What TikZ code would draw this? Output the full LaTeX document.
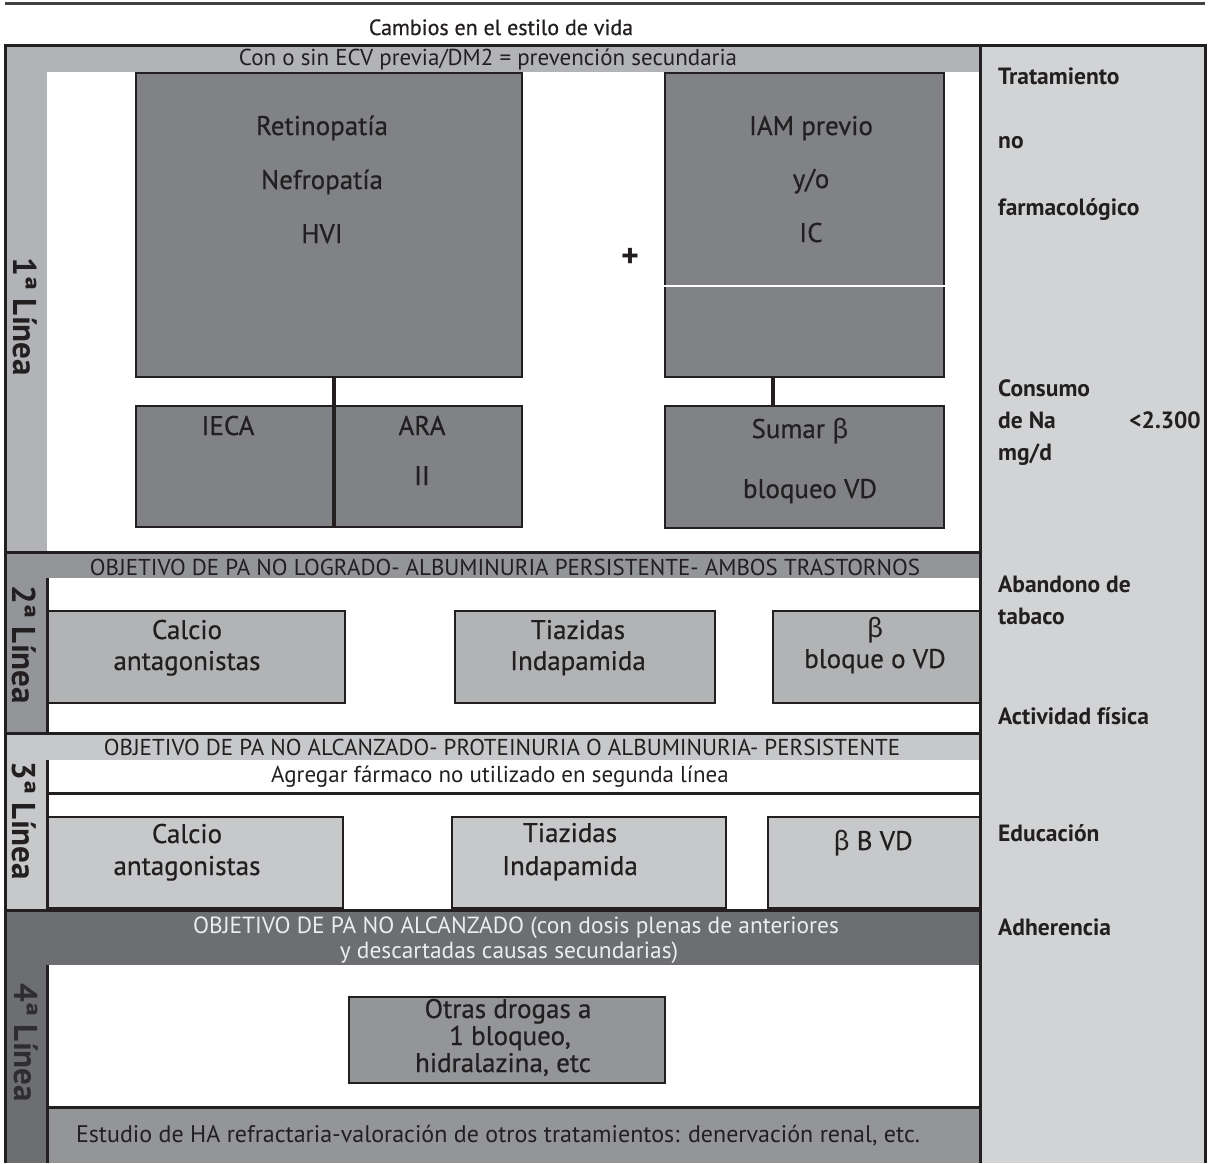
\documentclass[tikz,border=0pt]{standalone}
\usepackage{fontspec}
\setmainfont{PT Sans}
\newfontfamily\grk{Fira Sans}
\newfontfamily\medfont{PT Sans}[FakeBold=0.6]
\definecolor{ink}{HTML}{231F20}
\definecolor{darkink}{HTML}{2E2D2F}
\definecolor{bandA}{HTML}{B2B3B6}
\definecolor{boxA}{HTML}{808285}
\definecolor{sidecol}{HTML}{D1D3D4}
\definecolor{bandB}{HTML}{939598}
\definecolor{boxB}{HTML}{B2B3B5}
\definecolor{bandC}{HTML}{C7C8CA}
\definecolor{bandD}{HTML}{6D6E71}
\definecolor{boxD}{HTML}{939598}
\definecolor{lighttxt}{HTML}{ECEDEE}
\newcommand{\mainsz}{\medfont\fontsize{27}{30}\selectfont}
\newcommand{\bandsz}{\fontsize{23}{26}\selectfont}
\newcommand{\widesz}{\fontsize{23.4}{27}\selectfont}
\newcommand{\titlesz}{\medfont\fontsize{22}{25}\selectfont}
\newcommand{\sidesz}{\fontsize{23.5}{26}\selectfont\bfseries}
\newcommand{\lblsz}{\fontsize{33}{36}\selectfont\bfseries}
\newcommand{\bet}{{\grk β}}
\begin{document}
\begin{tikzpicture}[x=1pt,y=-1pt,
  txt/.style={inner sep=0pt, text=ink, font=\mainsz, anchor=base},
  bandtxt/.style={inner sep=0pt, text=ink, font=\bandsz, anchor=base},
  sidetxt/.style={inner sep=0pt, text=ink, font=\sidesz, anchor=base west},
  linelbl/.style={inner sep=0pt, text=ink, font=\lblsz, rotate=-90},
  rule/.style={draw=ink, line width=3pt},
  boxone/.style={draw=ink, line width=2.5pt, fill=boxA, inner sep=0pt},
  boxtwo/.style={draw=ink, line width=2.5pt, fill=boxB, inner sep=0pt},
  boxthree/.style={draw=ink, line width=2.5pt, fill=bandC, inner sep=0pt},
  boxfour/.style={draw=ink, line width=2.5pt, fill=boxD, inner sep=0pt},
  conn/.style={draw=ink, line width=3.5pt}
]
\useasboundingbox (0,0) rectangle (1208,1163);
\fill[white] (0,0) rectangle (1208,1163);

% top rule and title
\draw[draw=ink!85, line width=3pt] (5,3) -- (1205,3);
\node[txt, font=\titlesz] (title) at (501,35) {Cambios en el estilo de vida};

% backgrounds
\fill[sidecol] (980,45) rectangle (1205,1163);
\fill[bandA] (5,45) rectangle (980,552);
\fill[white] (47,72) rectangle (980,552);
\fill[bandB] (5,552) rectangle (980,733);
\fill[white] (47,578) rectangle (980,733);
\fill[bandC] (5,733) rectangle (980,910);
\fill[white] (47,760) rectangle (980,910);
\fill[bandD] (5,910) rectangle (980,1163);
\fill[white] (47,965) rectangle (980,1163);
\fill[boxD] (47,1107) rectangle (980,1163);

% frame lines
\draw[rule] (5,1163) -- (5,45) -- (1205,45) -- (1205,1163);
\draw[rule] (980,45) -- (980,1163);
\draw[rule] (5,552) -- (980,552);
\draw[rule] (5,733) -- (980,733);
\draw[rule] (5,910) -- (980,910);
\draw[rule] (47,578) -- (47,733);
\draw[rule] (47,760) -- (47,910);
\draw[rule] (47,793) -- (980,793);
\draw[rule] (47,965) -- (47,1163);
\draw[rule] (47,1107) -- (980,1107);

% section labels
\node[linelbl] (l1) at (25,317) {1ª Línea};
\node[linelbl] (l2) at (24,645) {2ª Línea};
\node[linelbl] (l3) at (24,821) {3ª Línea};
\node[linelbl, text=darkink] (l4) at (26,1043) {4ª Línea};

% section 1
\node[bandtxt] (b1) at (488,65) {Con o sin ECV previa/DM2 = prevención secundaria};
\node[boxone, minimum width=386pt, minimum height=304pt] (ret) at (329,225) {};
\node[boxone, minimum width=279pt, minimum height=304pt] (iam) at (804.5,225) {};
\draw[white, line width=2pt] (iam.west |- 0,286) -- (iam.east |- 0,286);
\node[boxone, minimum width=199pt, minimum height=121pt] (ieca) at (235.5,466.5) {};
\node[boxone, minimum width=187pt, minimum height=121pt] (ara) at (428.5,466.5) {};
\node[boxone, minimum width=279pt, minimum height=122pt] (sumar) at (804.5,467) {};
\coordinate (cx) at (773,0);
\draw[conn] (ret.south -| ara.west) -- (ara.south west);
\draw[conn] (iam.south -| cx) -- (sumar.north -| cx);

\node[txt] (r1) at (322,135) {Retinopatía};
\node[txt] (r2) at (322,189) {Nefropatía};
\node[txt] (r3) at (322,243) {HVI};
\node[txt] (i1) at (811,135) {IAM previo};
\node[txt] (i2) at (811,188) {y/o};
\node[txt] (i3) at (811,242) {IC};
\node[txt, font=\fontsize{34}{36}\selectfont\bfseries, anchor=center] (plus) at (630,258) {+};
\node[txt] (e1) at (228,435) {IECA};
\node[txt] (a1) at (422,435) {ARA};
\node[txt] (a2) at (422,485) {II};
\node[txt] (s1) at (800,438) {Sumar \bet};
\node[txt] (s2) at (810,498) {bloqueo VD};

% section 2
\node[bandtxt] (b2) at (505,575) {OBJETIVO DE PA NO LOGRADO- ALBUMINURIA PERSISTENTE- AMBOS TRASTORNOS};
\node[boxtwo, minimum width=297pt, minimum height=92pt] (ca2) at (196.5,657) {};
\node[boxtwo, minimum width=260pt, minimum height=92pt] (ti2) at (585,657) {};
\node[boxtwo, minimum width=207pt, minimum height=92pt] (be2) at (876.5,657) {};
\node[txt] (ca2a) at (187,639) {Calcio};
\node[txt] (ca2b) at (187,670) {antagonistas};
\node[txt] (ti2a) at (578,639) {Tiazidas};
\node[txt] (ti2b) at (578,670) {Indapamida};
\node[txt] (be2a) at (875,637) {\bet};
\node[txt] (be2b) at (875,668) {bloque o VD};

% section 3
\node[bandtxt] (b3) at (502,755) {OBJETIVO DE PA NO ALCANZADO- PROTEINURIA O ALBUMINURIA- PERSISTENTE};
\node[bandtxt] (ag) at (500,782) {Agregar fármaco no utilizado en segunda línea};
\node[boxthree, minimum width=295pt, minimum height=91pt] (ca3) at (195.5,862.5) {};
\node[boxthree, minimum width=274pt, minimum height=91pt] (ti3) at (589,862.5) {};
\node[boxthree, minimum width=212pt, minimum height=91pt] (be3) at (874,862.5) {};
\node[txt] (ca3a) at (187,843) {Calcio};
\node[txt] (ca3b) at (187,875) {antagonistas};
\node[txt] (ti3a) at (570,842) {Tiazidas};
\node[txt] (ti3b) at (570,875) {Indapamida};
\node[txt] (be3a) at (873,850) {\bet{} B VD};

% section 4
\node[bandtxt, font=\widesz, text=lighttxt] (b4a) at (516,933) {OBJETIVO DE PA NO ALCANZADO (con dosis plenas de anteriores};
\node[bandtxt, font=\widesz, text=lighttxt] (b4b) at (509,958) {y descartadas causas secundarias)};
\node[boxfour, minimum width=316pt, minimum height=86pt] (ot) at (507,1040) {};
\node[txt] (ot1) at (508,1018) {Otras drogas a};
\node[txt] (ot2) at (510,1045) {1 bloqueo,};
\node[txt] (ot3) at (503,1072) {hidralazina, etc};
\node[bandtxt, font=\fontsize{24}{27}\selectfont] (est) at (498,1142) {Estudio de HA refractaria-valoración de otros tratamientos: denervación renal, etc.};

% side column
\node[sidetxt] (n1) at (998,84) {Tratamiento};
\node[sidetxt] (n2) at (998,148) {no};
\node[sidetxt] (n3) at (998,215) {farmacológico};
\node[sidetxt] (n4) at (998,396) {Consumo};
\node[sidetxt] (n5) at (998,428) {de Na};
\node[sidetxt, anchor=base east] (n6) at (1201,428) {<2.300};
\node[sidetxt] (n7) at (998,460) {mg/d};
\node[sidetxt] (n8) at (998,592) {Abandono de};
\node[sidetxt] (n9) at (998,624) {tabaco};
\node[sidetxt] (n10) at (998,724) {Actividad física};
\node[sidetxt] (n11) at (998,841) {Educación};
\node[sidetxt] (n12) at (998,935) {Adherencia};
\end{tikzpicture}
\end{document}
